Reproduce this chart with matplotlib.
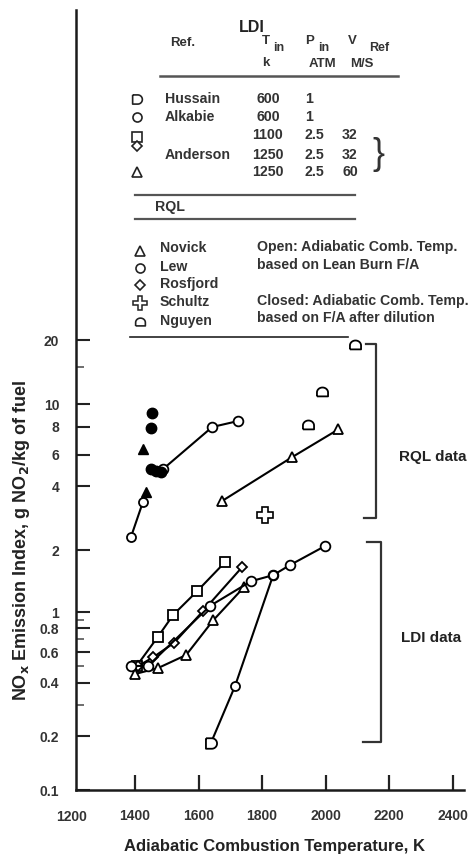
import numpy as np
import matplotlib
matplotlib.use("Agg")
import matplotlib.pyplot as plt

plt.rcParams['font.family'] = ['Liberation Sans', 'DejaVu Sans']

# ---------------- data ----------------
# RQL data
lew_T = [1488, 1643, 1725]
lew_EI = [4.99, 8.0, 8.48]
rosf_T = [1387, 1425]
rosf_EI = [2.30, 3.37]
filled_circ_T = [1454, 1450, 1450, 1466, 1482]
filled_circ_EI = [9.16, 7.9, 4.99, 4.86, 4.8]
filled_tri_T = [1425, 1435]
filled_tri_EI = [6.38, 3.75]
novick_T = [1674, 1895, 2040]
novick_EI = [3.4, 5.84, 7.8]
nguyen_T = [2093, 1989, 1945]
nguyen_EI = [18.9, 11.4, 8.15]
schultz_T = [1810]
schultz_EI = [2.92]

# LDI data
and1100_T = [1405, 1472, 1520, 1595, 1684]
and1100_EI = [0.50, 0.72, 0.96, 1.26, 1.75]
and1250_T = [1410, 1457, 1523, 1614, 1737]
and1250_EI = [0.50, 0.56, 0.67, 1.01, 1.65]
and60_T = [1400, 1472, 1561, 1646, 1743]
and60_EI = [0.45, 0.486, 0.577, 0.89, 1.32]
alk_T = [1387, 1441, 1636, 1765, 1835, 1888, 1999]
alk_EI = [0.50, 0.50, 1.07, 1.41, 1.51, 1.69, 2.09]
huss_T = [1639, 1715, 1835]
huss_EI = [0.183, 0.385, 1.51]

x_ticks = [1400, 1600, 1800, 2000, 2200, 2400]
y_ticks = [0.1, 0.2, 0.4, 0.6, 0.8, 1, 2, 4, 6, 8, 10, 20]
y_tick_labels = ['0.1', '0.2', '0.4', '0.6', '0.8', '1', '2', '4', '6', '8', '10', '20']
y_minor = [0.3, 0.5, 0.7, 0.9, 15]

# ---------------- hand-drawn log axis (scale definition) ----------------
ANCH_V = np.log10([0.1, 0.2, 0.4, 0.6, 0.8, 1, 2, 4, 6, 8, 10, 20])
ANCH_U = -np.array([790, 736, 683, 652, 628, 612, 550, 486, 455, 427, 404, 340], float)


def _interp(x, xp, fp):
    x = np.asarray(x, float)
    y = np.interp(x, xp, fp)
    y = np.where(x < xp[0], fp[0] + (x - xp[0]) * (fp[1] - fp[0]) / (xp[1] - xp[0]), y)
    y = np.where(x > xp[-1], fp[-1] + (x - xp[-1]) * (fp[-1] - fp[-2]) / (xp[-1] - xp[-2]), y)
    return y


def fwd(v):
    v = np.asarray(v, float)
    return _interp(np.log10(np.maximum(v, 1e-300)), ANCH_V, ANCH_U)


def inv(u):
    return 10 ** _interp(u, ANCH_U, ANCH_V)


# ---------------- custom markers ----------------
th = np.linspace(0, np.pi, 20)
dome = [(-1, -0.7), (1, -0.7), (1, 0.0)] + [(np.cos(t), 0.9 * np.sin(t)) for t in th[1:-1]] + [(-1, 0.0), (-1, -0.7)]
th2 = np.linspace(-np.pi / 2, np.pi / 2, 20)
dshape = [(-0.9, 0.85), (-0.9, -0.85), (0.05, -0.85)] + [(0.05 + 0.85 * np.cos(t), 0.85 * np.sin(t)) for t in th2[1:-1]] + [(0.05, 0.85), (-0.9, 0.85)]

W, H = 477, 857
fig = plt.figure(figsize=(W / 100, H / 100), dpi=100)
ax = fig.add_axes([76 / W, (H - 790) / H, (464 - 76) / W, (790 - 10) / H])
ax.set_yscale('function', functions=(fwd, inv))
ax.set_xlim(1214, 2436)
ax.set_ylim(0.1, float(inv(-10)))

for s in ['top', 'right']:
    ax.spines[s].set_visible(False)
for s in ['left', 'bottom']:
    ax.spines[s].set_linewidth(1.8)
    ax.spines[s].set_color('#1a1a1a')

ax.set_xticks(x_ticks)
ax.set_xticklabels([str(t) for t in x_ticks])
ax.set_yticks(y_ticks)
ax.set_yticklabels(y_tick_labels)
ax.set_yticks(y_minor, minor=True)
ax.tick_params(axis='x', direction='in', length=11, width=1.6, color='#222', pad=14,
               labelsize=10, labelcolor='#333')
ax.tick_params(axis='y', which='major', direction='in', length=10, width=1.5, color='#222', pad=12,
               labelsize=10, labelcolor='#333')
ax.tick_params(axis='y', which='minor', direction='in', length=6, width=1.2, color='#555')
for lab in ax.get_xticklabels() + ax.get_yticklabels():
    lab.set_fontweight('bold')
ax.xaxis.set_minor_locator(matplotlib.ticker.NullLocator())
ax.text(1200, -0.026, '1200', transform=ax.get_xaxis_transform(), ha='center', va='top',
        fontsize=10, fontweight='bold', color='#333', clip_on=False)

lw = 1.5
mk = dict(mfc='white', mec='black', mew=1.3, color='black', lw=lw)
# RQL
ax.plot(lew_T, lew_EI, marker='o', ms=7, **mk)
ax.plot(rosf_T, rosf_EI, marker='o', ms=6.5, **mk)
ax.plot(novick_T, novick_EI, marker='^', ms=7, **mk)
ax.plot(nguyen_T, nguyen_EI, ls='none', marker=dome, ms=8, mfc='white', mec='black', mew=1.3)
ax.plot(schultz_T, schultz_EI, ls='none', marker='P', ms=11, mfc='white', mec='black', mew=1.2)
ax.plot(filled_circ_T, filled_circ_EI, ls='none', marker='o', ms=7.5, color='black')
ax.plot(filled_tri_T, filled_tri_EI, ls='none', marker='^', ms=6.5, color='black')
# LDI
ax.plot(and1100_T, and1100_EI, marker='s', ms=7, **mk)
ax.plot(and1250_T, and1250_EI, marker='D', ms=5.5, **mk)
ax.plot(and60_T, and60_EI, marker='^', ms=6.5, **mk)
ax.plot(alk_T, alk_EI, marker='o', ms=7, **mk)
ax.plot(huss_T, huss_EI, color='black', lw=lw)
ax.plot(huss_T[1:], huss_EI[1:], ls='none', marker='o', ms=6.5, mfc='white', mec='black', mew=1.3)
ax.plot(huss_T[:1], huss_EI[:1], ls='none', marker=dshape, ms=8, mfc='white', mec='black', mew=1.3)

# ---------------- overlay (legend table, brackets) in pixel coords ----------------
ov = fig.add_axes([0, 0, 1, 1])
ov.set_xlim(0, W)
ov.set_ylim(H, 0)
ov.set_axis_off()
ov.patch.set_visible(False)

tc = '#333333'
tk = dict(color=tc, fontweight='bold', fontsize=10.2, va='center')
hk = dict(color=tc, fontweight='bold', fontsize=9.5, va='center', ha='center')
sk = dict(color=tc, fontweight='bold', fontsize=9, va='center', ha='center')
ov.text(252, 27, 'LDI', ha='center', color='#222', fontweight='bold', fontsize=11.5, va='center')
ov.text(183, 43, 'Ref.', **hk)
ov.text(266, 41, 'T', **hk)
ov.text(279, 48, 'in', **sk)
ov.text(266, 63, 'k', **hk)
ov.text(310, 41, 'P', **hk)
ov.text(324, 48, 'in', **sk)
ov.text(322, 64, 'ATM', **hk)
ov.text(352, 41, 'V', **hk)
ov.text(379, 48, 'Ref', **sk)
ov.text(362, 64, 'M/S', **hk)
ov.plot([160, 398], [76, 76], color='#555', lw=1.8)

leg_y = [99, 117, 135, 155, 172]
ov.plot([137], [99], ls='none', marker=dshape, ms=7, mfc='white', mec='#222', mew=1.2)
ov.plot([137], [117], ls='none', marker='o', ms=6.5, mfc='white', mec='#222', mew=1.2)
ov.plot([137], [137], ls='none', marker='s', ms=6.5, mfc='white', mec='#222', mew=1.2)
ov.plot([137], [146], ls='none', marker='D', ms=5, mfc='white', mec='#222', mew=1.2)
ov.plot([137], [172], ls='none', marker='^', ms=6.5, mfc='white', mec='#222', mew=1.2)
ov.text(165, 99, 'Hussain', ha='left', **tk)
ov.text(165, 117, 'Alkabie', ha='left', **tk)
ov.text(165, 155, 'Anderson', ha='left', **tk)
for yy, a, b, c in zip(leg_y, ['600', '600', '1100', '1250', '1250'], ['1', '1', '2.5', '2.5', '2.5'],
                       ['', '', '32', '32', '60']):
    ov.text(268, yy, a, ha='center', **tk)
    ov.text(305, yy, b, ha='left', **tk)
    ov.text(350, yy, c, ha='center', **tk)
ov.text(378, 154, '}', ha='center', va='center', fontsize=26, color='#333', fontweight='light')

ov.plot([135, 355], [195, 195], color='#555', lw=1.6)
ov.text(155, 207, 'RQL', ha='left', **tk)
ov.plot([135, 355], [219, 219], color='#555', lw=1.6)

ov.plot([140], [251], ls='none', marker='^', ms=6.5, mfc='white', mec='#222', mew=1.2)
ov.plot([140], [268], ls='none', marker='o', ms=6.5, mfc='white', mec='#222', mew=1.2)
ov.plot([140], [285], ls='none', marker='D', ms=5, mfc='white', mec='#222', mew=1.2)
ov.plot([140], [303], ls='none', marker='P', ms=9.5, mfc='white', mec='#222', mew=1.1)
ov.plot([140], [322], ls='none', marker=dome, ms=7, mfc='white', mec='#222', mew=1.2)
for yy, name in zip([248, 267, 284, 302, 321], ['Novick', 'Lew', 'Rosfjord', 'Schultz', 'Nguyen']):
    ov.text(160, yy, name, ha='left', **tk)
ov.text(257, 247, 'Open: Adiabatic Comb. Temp.', ha='left', **tk)
ov.text(257, 265, 'based on Lean Burn F/A', ha='left', **tk)
ov.text(257, 301, 'Closed: Adiabatic Comb. Temp.', ha='left', **tk)
ov.text(257, 318, 'based on F/A after dilution', ha='left', **tk)
ov.plot([130, 348], [337, 337], color='#222', lw=1.2)

# brackets
ov.plot([366, 376, 376, 364], [344, 344, 518, 518], color='#333', lw=1.6)
ov.plot([367, 381, 381, 363], [542, 542, 742, 742], color='#333', lw=1.6)
ov.text(433, 457, 'RQL data', ha='center', va='center', fontsize=11, fontweight='bold', color='#222')
ov.text(431, 638, 'LDI data', ha='center', va='center', fontsize=11, fontweight='bold', color='#222')

fig.text(22 / W, 1 - 540 / H, r'NO$_\mathbf{x}$ Emission Index, g NO$_\mathbf{2}$/kg of fuel', rotation=90,
         ha='center', va='center', fontsize=13, fontweight='bold', color='#222')
fig.text(275 / W, 1 - 846 / H, 'Adiabatic Combustion Temperature, K', ha='center', va='center',
         fontsize=12, fontweight='bold', color='#222')

fig.savefig('out.png', dpi=100)
